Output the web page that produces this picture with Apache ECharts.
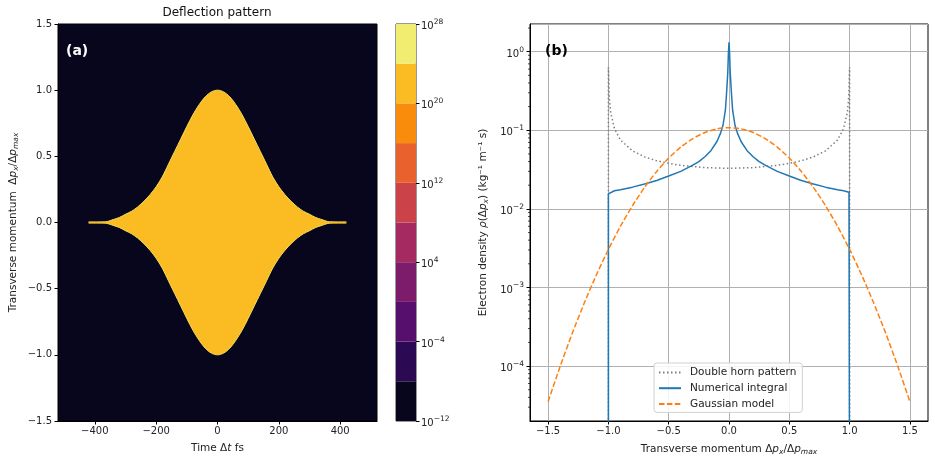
<!DOCTYPE html>
<html>
<head>
<meta charset="utf-8">
<script src="https://cdn.jsdelivr.net/npm/echarts@6/dist/echarts.min.js"></script>
<style>
html, body { margin: 0; padding: 0; background: #fff; }
#main { width: 935px; height: 462px; }
</style>
</head>
<body>
<div id="main"></div>
<script>
// (a) upper edge of the deflection envelope (lower edge is the mirror)
const envelopeTime = [-420, -390, -365, -350, -340, -320, -300, -280, -260, -240, -220, -200, -180, -160, -140, -120, -100, -80, -60, -40, -20, 0,
    20, 40, 60, 80, 100, 120, 140, 160, 180, 200, 220, 240, 260, 280, 300, 320, 340, 350, 365, 390, 420];
const envelopeUpper = [0.004, 0.004, 0.005, 0.014, 0.022, 0.038, 0.062, 0.085, 0.118, 0.16, 0.21, 0.27, 0.345, 0.44, 0.535, 0.63, 0.725, 0.815, 0.89, 0.95, 0.987, 1.0,
    0.987, 0.95, 0.89, 0.815, 0.725, 0.63, 0.535, 0.44, 0.345, 0.27, 0.21, 0.16, 0.118, 0.085, 0.062, 0.038, 0.022, 0.014, 0.005, 0.004, 0.004];

// colorbar (exponents of 10)
const colorbarEdges = [-12, -8, -4, 0, 4, 8, 12, 16, 20, 24, 28];
const colorbarColors = ['#08061c', '#2b0a53', '#560f6c', '#7e1c6c', '#a42a61', '#cb4249', '#e9622d', '#f98c0b', '#fbbc23', '#f1ed70'];
const colorbarTicks = [-12, -4, 4, 12, 20, 28];

// (b) densities
const hornX = [-1, -1, -0.998, -0.995, -0.99, -0.98, -0.95, -0.9, -0.8, -0.7, -0.6, -0.5, -0.4, -0.2, 0,
    0.2, 0.4, 0.5, 0.6, 0.7, 0.8, 0.9, 0.95, 0.98, 0.99, 0.995, 0.998, 1, 1];
const hornY = [1e-6, 0.634, 0.52, 0.328, 0.232, 0.165, 0.105, 0.0752, 0.0547, 0.0459, 0.041, 0.0379, 0.0358, 0.0335, 0.0328,
    0.0335, 0.0358, 0.0379, 0.041, 0.0459, 0.0547, 0.0752, 0.105, 0.165, 0.232, 0.328, 0.52, 0.634, 1e-6];

const numX = [-1, -1, -0.995, -0.95, -0.9, -0.8, -0.7, -0.6, -0.5, -0.4, -0.3, -0.25, -0.2, -0.15, -0.1, -0.07, -0.05, -0.03, -0.02, -0.01, -0.005, 0,
    0.005, 0.01, 0.02, 0.03, 0.05, 0.07, 0.1, 0.15, 0.2, 0.25, 0.3, 0.4, 0.5, 0.6, 0.7, 0.8, 0.9, 0.95, 0.995, 1, 1];
const numY = [1e-6, 0.0155, 0.0163, 0.017, 0.0175, 0.0189, 0.0207, 0.023, 0.0262, 0.03, 0.036, 0.04, 0.046, 0.055, 0.072, 0.092, 0.115, 0.18, 0.3, 0.55, 0.95, 1.32,
    0.95, 0.55, 0.3, 0.18, 0.115, 0.092, 0.072, 0.055, 0.046, 0.04, 0.036, 0.03, 0.0262, 0.023, 0.0207, 0.0189, 0.0175, 0.017, 0.0163, 0.0155, 1e-6];

const gaussX = [-1.5, -1.4, -1.3, -1.2, -1.1, -1.0, -0.9, -0.8, -0.7, -0.6, -0.5, -0.4, -0.3, -0.2, -0.1, 0,
    0.1, 0.2, 0.3, 0.4, 0.5, 0.6, 0.7, 0.8, 0.9, 1.0, 1.1, 1.2, 1.3, 1.4, 1.5];
const gaussY = [3.52e-5, 9.9e-5, 2.6e-4, 6.34e-4, 1.44e-3, 3.05e-3, 6.01e-3, 0.011, 0.0188, 0.0299, 0.0443, 0.0611, 0.0784, 0.0938, 0.1043, 0.108,
    0.1043, 0.0938, 0.0784, 0.0611, 0.0443, 0.0299, 0.0188, 0.011, 6.01e-3, 3.05e-3, 1.44e-3, 6.34e-4, 2.6e-4, 9.9e-5, 3.52e-5];

const xTicksRight = [-1.5, -1, -0.5, 0, 0.5, 1, 1.5];
const xTicksLeft = [-400, -200, 0, 200, 400];

const yMinR = 2e-5, yMaxR = 2.25;
const xMinR = -1.65, xMaxR = 1.65;

function dec1(v) { return v.toFixed(1).replace('-', '−'); }
function pow10(e) { return '{b|10}{s|' + String(e).replace('-', '−') + '}'; }
function zip(a, b) { return a.map((v, i) => [v, b[i]]); }

const minorTicks = [];
for (let e = -5; e <= 0; e++) {
    for (let k = 2; k <= 9; k++) {
        const v = k * Math.pow(10, e);
        if (v > yMinR && v < yMaxR) minorTicks.push([xMinR, v]);
    }
}

const txt = '#222';
const fill = colorbarColors[8];
const edge = '#f3df55';
const richName = {
    i: { fontStyle: 'italic', fontSize: 10.5, color: txt },
    sub: { fontStyle: 'italic', fontSize: 7.5, color: txt, padding: [5, 0, 0, 0] }
};
const richPow = {
    b: { fontSize: 10, color: txt, padding: [5, 0, 0, 0] },
    s: { fontSize: 7.5, color: txt, padding: [0, 0, 4, 0] }
};

let chart = echarts.init(document.getElementById('main'));
option = {
    animation: false,
    textStyle: { fontFamily: 'DejaVu Sans' },
    graphic: [
        { type: 'text', x: 217, y: 13, style: { text: 'Deflection pattern', font: '12px DejaVu Sans', fill: '#111', align: 'center', verticalAlign: 'middle' } },
        { type: 'text', x: 66, y: 51, z: 100, style: { text: '(a)', font: 'bold 14px DejaVu Sans', fill: '#fff', align: 'left', verticalAlign: 'middle' } },
        { type: 'text', x: 545, y: 51, z: 100, style: { text: '(b)', font: 'bold 14px DejaVu Sans', fill: '#000', align: 'left', verticalAlign: 'middle' } }
    ],
    grid: [
        { left: 58, top: 24, width: 319, height: 397, show: true, backgroundColor: colorbarColors[0], borderColor: '#000', borderWidth: 1 },
        { left: 396, top: 24, width: 20, height: 397, show: true, borderColor: '#333', borderWidth: 1 },
        { left: 530, top: 24, width: 398, height: 397, show: true, borderColor: '#000', borderWidth: 1 }
    ],
    legend: {
        data: ['Double horn pattern', 'Numerical integral', 'Gaussian model'],
        orient: 'vertical',
        left: 654, top: 363,
        padding: [4, 6, 3, 4],
        itemWidth: 22, itemHeight: 12, itemGap: 4.7,
        itemStyle: { opacity: 0 },
        backgroundColor: 'rgba(255,255,255,0.85)',
        borderColor: '#d0d0d0', borderWidth: 1, borderRadius: 3,
        textStyle: { fontSize: 10.5, color: txt, padding: [0, 0, 0, 4] }
    },
    xAxis: [
        {
            gridIndex: 0, type: 'value', min: -520, max: 520,
            name: 'Time Δ{i|t} fs', nameLocation: 'middle', nameGap: 22,
            nameTextStyle: { fontSize: 10.5, color: txt, rich: richName },
            axisLine: { onZero: false, lineStyle: { color: '#000' } },
            axisTick: { length: 3.5, lineStyle: { color: '#000' }, customValues: xTicksLeft },
            axisLabel: { fontSize: 10, color: txt, margin: 5, customValues: xTicksLeft, formatter: v => String(v).replace('-', '−') },
            splitLine: { show: false }
        },
        {
            gridIndex: 1, type: 'value', min: 0, max: 1, show: false
        },
        {
            gridIndex: 2, type: 'value', min: xMinR, max: xMaxR,
            name: 'Transverse momentum Δ{i|p}{sub|x}/Δ{i|p}{sub|max}', nameLocation: 'middle', nameGap: 22,
            nameTextStyle: { fontSize: 10.5, color: txt, rich: richName },
            axisLine: { onZero: false, lineStyle: { color: '#000' } },
            axisTick: { length: 3.5, lineStyle: { color: '#000' }, customValues: xTicksRight },
            axisLabel: { fontSize: 10, color: txt, margin: 5, customValues: xTicksRight, formatter: dec1 },
            splitLine: { show: true, lineStyle: { color: '#b0b0b0', width: 1 } }
        }
    ],
    yAxis: [
        {
            gridIndex: 0, type: 'value', min: -1.5, max: 1.5, interval: 0.5,
            name: 'Transverse momentum  Δ{i|p}{sub|x}/Δ{i|p}{sub|max}', nameLocation: 'middle', nameGap: 38,
            nameTextStyle: { fontSize: 10.5, color: txt, rich: richName },
            axisLine: { show: true, onZero: false, lineStyle: { color: '#000' } },
            axisTick: { length: 3.5, lineStyle: { color: '#000' } },
            axisLabel: { fontSize: 10, color: txt, margin: 6, formatter: dec1 },
            splitLine: { show: false }
        },
        {
            gridIndex: 1, type: 'value', min: -12, max: 28, interval: 8, position: 'right',
            axisLine: { show: false, onZero: false },
            axisTick: { length: 3.5, lineStyle: { color: '#000' }, customValues: colorbarTicks },
            axisLabel: { color: txt, margin: 5, customValues: colorbarTicks, formatter: pow10, rich: richPow },
            splitLine: { show: false }
        },
        {
            gridIndex: 2, type: 'log', logBase: 10, min: yMinR, max: yMaxR,
            name: 'Electron density {i|ρ}(Δ{i|p}{sub|x}) (kg⁻¹ m⁻¹ s)', nameLocation: 'middle', nameGap: 40,
            nameTextStyle: { fontSize: 10.5, color: txt, rich: richName },
            axisLine: { show: true, onZero: false, lineStyle: { color: '#000' } },
            axisTick: { length: 3.5, lineStyle: { color: '#000' } },
            axisLabel: {
                color: txt, margin: 6, showMinLabel: false, showMaxLabel: false, rich: richPow,
                formatter: v => {
                    const e = Math.log10(v);
                    if (Math.abs(e - Math.round(e)) > 1e-6) return '';
                    return pow10(Math.round(e));
                }
            },
            splitLine: { show: true, lineStyle: { color: '#b0b0b0', width: 1 } }
        }
    ],
    series: [
        {
            type: 'line', xAxisIndex: 0, yAxisIndex: 0, silent: true, smooth: 0.3,
            data: zip(envelopeTime, envelopeUpper), showSymbol: false,
            lineStyle: { color: edge, width: 1 },
            areaStyle: { color: fill, opacity: 1 }
        },
        {
            type: 'line', xAxisIndex: 0, yAxisIndex: 0, silent: true, smooth: 0.3,
            data: zip(envelopeTime, envelopeUpper.map(v => -v)), showSymbol: false,
            lineStyle: { color: edge, width: 1 },
            areaStyle: { color: fill, opacity: 1 }
        },
        {
            // covers the seam between the two filled halves along p = 0
            type: 'line', xAxisIndex: 0, yAxisIndex: 0, silent: true,
            data: zip(envelopeTime, envelopeTime.map(() => 0)), showSymbol: false,
            lineStyle: { color: fill, width: 1.6 }
        },
        {
            type: 'custom', xAxisIndex: 1, yAxisIndex: 1, silent: true,
            data: colorbarColors.map((c, i) => [0, colorbarEdges[i], colorbarEdges[i + 1]]),
            encode: { x: 0, y: [1, 2] },
            renderItem: function (params, api) {
                const p0 = api.coord([0, api.value(1)]);
                const p1 = api.coord([1, api.value(2)]);
                return {
                    type: 'rect',
                    shape: { x: p0[0], y: p1[1], width: p1[0] - p0[0], height: p0[1] - p1[1] },
                    style: { fill: colorbarColors[params.dataIndex] }
                };
            }
        },
        {
            type: 'custom', xAxisIndex: 2, yAxisIndex: 2, silent: true,
            data: minorTicks,
            renderItem: function (params, api) {
                const p = api.coord([api.value(0), api.value(1)]);
                return { type: 'line', shape: { x1: p[0] - 2, y1: p[1], x2: p[0], y2: p[1] }, style: { stroke: '#000', lineWidth: 0.7 } };
            }
        },
        {
            name: 'Double horn pattern', type: 'line', xAxisIndex: 2, yAxisIndex: 2,
            data: zip(hornX, hornY), showSymbol: false, symbol: 'none',
            lineStyle: { color: '#7f7f7f', width: 1.5, type: [1.5, 2.5] },
            itemStyle: { color: '#7f7f7f' }
        },
        {
            name: 'Numerical integral', type: 'line', xAxisIndex: 2, yAxisIndex: 2,
            data: zip(numX, numY), showSymbol: false, symbol: 'none',
            lineStyle: { color: '#1f77b4', width: 1.5 },
            itemStyle: { color: '#1f77b4' }
        },
        {
            name: 'Gaussian model', type: 'line', xAxisIndex: 2, yAxisIndex: 2,
            data: zip(gaussX, gaussY), showSymbol: false, symbol: 'none', smooth: 0.2,
            lineStyle: { color: '#ff7f0e', width: 1.5, type: [5.5, 2.4] },
            itemStyle: { color: '#ff7f0e' }
        }
    ]
};
chart.setOption(option);
</script>
</body>
</html>
